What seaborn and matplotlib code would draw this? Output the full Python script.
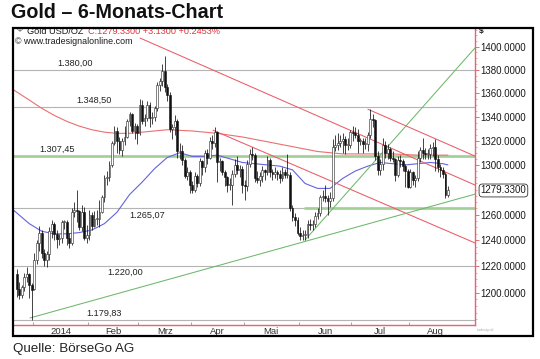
import numpy as np
import pandas as pd
import seaborn as sns
import matplotlib.pyplot as plt
from matplotlib.patches import Rectangle
from matplotlib.ticker import FixedLocator, NullFormatter, FuncFormatter
import matplotlib.transforms as mtransforms

# trading days of the chart (spot gold, daily)
dates = pd.bdate_range("2013-12-20", "2014-08-22")
dates = dates[~dates.isin(pd.to_datetime(["2013-12-25", "2014-01-01", "2014-04-18"]))]

open_ = [
    1214, 1203, 1198, 1204, 1212, 1214, 1206,
    1203, 1225, 1238, 1246, 1230, 1225, 1229, 1247, 1253, 1245, 1241, 1242, 1254, 1254, 1242, 1238, 1262, 1264, 1263, 1250, 1262, 1242,
    1244, 1260, 1251, 1257, 1257, 1262, 1274, 1289, 1290, 1300, 1318, 1328, 1320, 1312, 1320, 1323, 1336, 1342, 1328, 1332,
    1326, 1350, 1336, 1339, 1350, 1339, 1340, 1347, 1367, 1370, 1379, 1365, 1358, 1330, 1331, 1336, 1311, 1311, 1304, 1291, 1294,
    1284, 1280, 1291, 1285, 1303, 1298, 1310, 1306, 1320, 1318, 1327, 1302, 1303, 1294, 1290, 1284, 1284, 1293, 1300, 1296, 1297,
    1284, 1283, 1301, 1309, 1308, 1289, 1288, 1291, 1296, 1294, 1304, 1294, 1293, 1294, 1293, 1289, 1294, 1292, 1292, 1265, 1258, 1256,
    1246, 1243, 1244, 1244, 1253, 1252, 1253, 1259, 1261, 1274, 1275, 1273, 1271, 1273, 1315, 1316, 1318, 1320, 1321, 1316, 1316,
    1327, 1326, 1325, 1320, 1320, 1317, 1317, 1325, 1338, 1337, 1307, 1296, 1301, 1316, 1310, 1313, 1306, 1305, 1292, 1304, 1303, 1299, 1295,
    1282, 1294, 1288, 1289, 1306, 1312, 1310, 1309, 1309, 1314, 1315, 1305, 1298, 1296, 1293, 1276,
]
high = [
    1218, 1208, 1206, 1215, 1219, 1215, 1207,
    1230, 1240, 1251, 1248, 1233, 1232, 1250, 1256, 1254, 1248, 1245, 1256, 1256, 1256, 1246, 1265, 1270, 1280, 1264, 1268, 1266, 1252,
    1264, 1262, 1263, 1264, 1272, 1276, 1292, 1295, 1303, 1320, 1332, 1331, 1323, 1322, 1332, 1338, 1344, 1343, 1335, 1334,
    1355, 1354, 1342, 1353, 1352, 1344, 1349, 1369, 1373, 1385, 1392, 1368, 1361, 1334, 1341, 1338, 1318, 1316, 1306, 1298, 1296,
    1287, 1294, 1293, 1306, 1304, 1312, 1313, 1323, 1325, 1331, 1328, 1306, 1304, 1296, 1291, 1289, 1296, 1305, 1307, 1300, 1299,
    1288, 1304, 1313, 1315, 1310, 1295, 1294, 1299, 1297, 1307, 1306, 1297, 1298, 1296, 1296, 1298, 1297, 1309, 1294, 1268, 1261, 1258,
    1250, 1248, 1248, 1256, 1257, 1256, 1262, 1265, 1276, 1280, 1284, 1276, 1278, 1321, 1325, 1326, 1325, 1326, 1324, 1322, 1329,
    1332, 1331, 1330, 1322, 1322, 1322, 1327, 1346, 1342, 1338, 1311, 1305, 1322, 1320, 1317, 1315, 1311, 1306, 1307, 1308, 1305, 1301, 1297,
    1297, 1295, 1292, 1311, 1315, 1322, 1314, 1313, 1317, 1319, 1321, 1308, 1301, 1298, 1294, 1283,
]
low = [
    1197, 1195, 1196, 1201, 1208, 1196, 1179.83,
    1202, 1222, 1232, 1226, 1220, 1219, 1225, 1242, 1240, 1234, 1236, 1238, 1249, 1236, 1234, 1236, 1258, 1254, 1248, 1247, 1240, 1238,
    1240, 1248, 1250, 1252, 1250, 1261, 1270, 1284, 1287, 1298, 1316, 1310, 1309, 1307, 1316, 1322, 1332, 1326, 1321, 1317,
    1325, 1334, 1332, 1336, 1331, 1334, 1336, 1345, 1362, 1366, 1361, 1353, 1327, 1321, 1325, 1306, 1305, 1300, 1289, 1288, 1277,
    1277, 1278, 1282, 1283, 1292, 1294, 1301, 1305, 1313, 1315, 1286, 1295, 1292, 1283, 1278, 1280, 1268, 1290, 1293, 1290, 1277,
    1272, 1279, 1298, 1304, 1286, 1285, 1283, 1286, 1288, 1292, 1290, 1288, 1289, 1288, 1285, 1287, 1289, 1289, 1263, 1255, 1251, 1244,
    1240, 1240, 1240, 1242, 1248, 1248, 1250, 1257, 1259, 1271, 1270, 1260, 1266, 1271, 1311, 1312, 1315, 1310, 1309, 1312, 1314,
    1320, 1322, 1310, 1316, 1310, 1313, 1311, 1322, 1331, 1304, 1292, 1292, 1296, 1306, 1305, 1303, 1302, 1287, 1290, 1298, 1295, 1282, 1281,
    1281, 1284, 1282, 1287, 1302, 1305, 1305, 1305, 1305, 1307, 1295, 1294, 1290, 1289, 1273, 1274,
]
close = [
    1203, 1198, 1204, 1212, 1214, 1206, 1202,
    1225, 1238, 1246, 1230, 1225, 1229, 1247, 1253, 1245, 1241, 1242, 1254, 1254, 1242, 1238, 1262, 1264, 1263, 1250, 1262, 1242, 1244,
    1260, 1251, 1257, 1257, 1262, 1274, 1289, 1290, 1300, 1318, 1328, 1320, 1312, 1320, 1323, 1336, 1342, 1328, 1332, 1326,
    1350, 1336, 1339, 1350, 1339, 1340, 1347, 1367, 1370, 1379, 1365, 1358, 1330, 1331, 1336, 1311, 1311, 1304, 1291, 1294, 1284,
    1280, 1291, 1285, 1303, 1298, 1310, 1306, 1320, 1318, 1327, 1302, 1303, 1294, 1290, 1284, 1284, 1293, 1300, 1296, 1297, 1284,
    1283, 1301, 1309, 1308, 1289, 1288, 1291, 1296, 1294, 1304, 1294, 1293, 1294, 1293, 1289, 1294, 1292, 1292, 1265, 1258, 1256, 1246,
    1243, 1244, 1244, 1253, 1252, 1253, 1259, 1261, 1274, 1275, 1273, 1271, 1273, 1315, 1316, 1318, 1320, 1321, 1316, 1316, 1327,
    1326, 1325, 1320, 1320, 1317, 1317, 1325, 1338, 1337, 1307, 1296, 1301, 1316, 1310, 1313, 1306, 1305, 1292, 1304, 1303, 1299, 1295, 1282,
    1294, 1288, 1289, 1306, 1312, 1310, 1309, 1309, 1314, 1315, 1305, 1298, 1296, 1293, 1276, 1279.33,
]

# moving averages (trading-day index, price)
ma_fast_idx = [-1.5, 5, 10, 15, 20, 25, 30, 35, 40, 45, 50, 55, 60, 65, 70, 75, 80, 85, 90,
               95, 100, 105, 110, 115, 120, 125, 130, 135, 140, 145, 150, 155, 160, 165, 170, 172]
ma_fast = [1264, 1253, 1247, 1245, 1245, 1246, 1248, 1253, 1262, 1276, 1286, 1297, 1306, 1310, 1307,
           1307, 1308, 1305, 1302, 1301, 1300, 1299, 1296, 1285, 1281, 1281, 1289, 1295, 1299, 1302,
           1301, 1300, 1301, 1302, 1301, 1300]
ma_slow_idx = [-1.5, 5, 10, 15, 20, 25, 30, 35, 40, 45, 50, 55, 60, 70, 80, 90, 100, 110, 120,
               130, 140, 150, 160, 172]
ma_slow = [1363, 1354, 1347, 1341, 1336, 1332, 1329, 1327, 1326, 1326, 1327, 1328, 1329, 1328,
           1326, 1323, 1319, 1315, 1311, 1309, 1309, 1309, 1308, 1308]

# drawn trend lines: (start idx, start price, end idx, end price)
red_lines = [(49.2, 1407.7, 182.8, 1283.7), (140.1, 1346.2, 182.8, 1307.2), (78.3, 1328.6, 182.8, 1237.9)]
green_lines = [(5.3, 1181.0, 182.8, 1276.4), (115.0, 1240.2, 182.8, 1399.0)]

# marked price levels and their labels
levels = [1380.00, 1348.50, 1307.45, 1265.07, 1220.00, 1179.83]
level_text = ["1.380,00", "1.348,50", "1.307,45", "1.265,07", "1.220,00", "1.179,83"]
level_label_x = [23.3, 30.8, 16.1, 52.0, 43.2, 34.8]
level_label_above = [True, True, True, False, False, True]

month_labels = ["2014", "Feb", "Mrz", "Apr", "Mai", "Jun", "Jul", "Aug"]
price_ticks = [1200, 1220, 1240, 1260, 1300, 1320, 1340, 1360, 1380, 1400]

sns.set_theme(style="white")
plt.rcParams["font.family"] = ["Liberation Sans", "DejaVu Sans"]

W, H = 540, 359
fig = plt.figure(figsize=(W / 100, H / 100), dpi=100)
ax = fig.add_axes([13 / W, 1 - 325 / H, 462 / W, 297 / H])
ax.set_facecolor("white")

df = pd.DataFrame({"date": dates, "o": open_, "h": high, "l": low, "c": close})
df["i"] = np.arange(len(df))

# levels
for lv, txt, lx, above in zip(levels, level_text, level_label_x, level_label_above):
    ax.axhline(lv, color="#b4b4b4", lw=0.8, zorder=1)
    ax.annotate(txt, (lx, lv), xytext=(0, 1.5 if above else -1.5), textcoords="offset points",
                ha="center", va="bottom" if above else "top", fontsize=6.6, color="#222222")
ax.axhline(1307.45, color="#9fd494", lw=2.2, alpha=0.85, zorder=1.5)
ax.plot([115.0, 182.8], [1265.07, 1265.07], color="#9fd494", lw=2.2, alpha=0.85, zorder=1.5)

# moving averages
sns.lineplot(x=ma_slow_idx, y=ma_slow, ax=ax, color="#ec6f6f", lw=0.8, zorder=2)
sns.lineplot(x=ma_fast_idx, y=ma_fast, ax=ax, color="#6464dc", lw=0.8, zorder=2)

for x0, y0, x1, y1 in red_lines:
    ax.plot([x0, x1], [y0, y1], color="#ec5a66", lw=0.75, zorder=2)
for x0, y0, x1, y1 in green_lines:
    ax.plot([x0, x1], [y0, y1], color="#6cb86a", lw=0.75, zorder=2)

# candles
ax.vlines(df["i"], df["l"], df["h"], color="#111111", lw=0.55, zorder=3)
up = df["c"] >= df["o"]
body_lo = np.minimum(df["o"], df["c"])
body_h = np.maximum(np.abs(df["c"] - df["o"]), 0.8)
ax.bar(df["i"][up], body_h[up], bottom=body_lo[up], width=0.72, color="white",
       edgecolor="#222222", linewidth=0.4, zorder=4)
ax.bar(df["i"][~up], body_h[~up], bottom=body_lo[~up], width=0.72, color="#111111",
       edgecolor="#111111", linewidth=0.4, zorder=4)

ax.set_yscale("log")
ax.set_xlim(-1.48, 182.8)
ax.set_ylim(1175.8, 1416.6)
ax.set_xlabel("")
ax.set_ylabel("")

# price axis
ax.yaxis.tick_right()
ax.yaxis.set_major_locator(FixedLocator(price_ticks))
ax.yaxis.set_major_formatter(FuncFormatter(lambda v, p: f"{v:.4f}"))
ax.yaxis.set_minor_locator(FixedLocator(np.arange(1180, 1416, 5)))
ax.yaxis.set_minor_formatter(NullFormatter())
ax.tick_params(axis="y", which="major", direction="out", length=3, width=0.6, color="#e0585e",
               pad=1, labelsize=7, labelcolor="#1a1a1a", right=True, left=False)
ax.tick_params(axis="y", which="minor", direction="out", length=1.6, width=0.5, color="#e88a8e",
               right=True, left=False)

# month axis
starts = [int(np.argmax((df["date"].dt.month == m) & (df["date"].dt.year == y)))
          for y, m in [(2014, 1), (2014, 2), (2014, 3), (2014, 4), (2014, 5), (2014, 6), (2014, 7), (2014, 8)]]
bounds = [s - 0.5 for s in starts] + [starts[-1] + 21 - 0.5]
centers = [(a + b) / 2 for a, b in zip(bounds[:-1], bounds[1:])]
ax.xaxis.set_major_locator(FixedLocator(centers))
ax.set_xticklabels(month_labels)
ax.xaxis.set_minor_locator(FixedLocator(bounds[:-1]))
ax.tick_params(axis="x", which="major", length=0, pad=1.5, labelsize=6.8, labelcolor="#333333")
ax.tick_params(axis="x", which="minor", direction="in", length=2, width=0.6, color="#999999",
               bottom=True)

for side in ["right", "bottom"]:
    ax.spines[side].set_color("#e8646c")
    ax.spines[side].set_linewidth(1.0)
ax.spines["left"].set_visible(False)
ax.spines["top"].set_visible(False)

# last price tag
tr = mtransforms.blended_transform_factory(ax.transAxes, ax.transData)
ax.text(1.012, 1279.33, "1279.3300", transform=tr, fontsize=7, va="center", ha="left",
        color="#1a1a1a", clip_on=False,
        bbox=dict(boxstyle="round,pad=0.15,rounding_size=0.35", fc="white", ec="#333333", lw=0.6))

def px(x, y):
    return x / W, 1 - y / H

# outer frame
fig.patches.append(Rectangle(px(13, 336), 520 / W, 308 / H, transform=fig.transFigure,
                             fill=False, ec="black", lw=1.6, zorder=10))

fig.text(*px(11, 13), "Gold \u2013 6-Monats-Chart", fontsize=14.2, fontweight="bold",
         va="center", ha="left", color="#111111",
         family=["Liberation Sans Narrow", "Liberation Sans", "DejaVu Sans"])
fig.text(*px(13, 349), "Quelle: BörseGo AG", fontsize=9.6, va="center", ha="left", color="#222222",
         family=["Liberation Sans Narrow", "Liberation Sans", "DejaVu Sans"])

fig.text(*px(17, 31), "\u03a6", fontsize=5.5, va="center", ha="left", color="#555555")
fig.text(*px(27, 31), "Gold USD/OZ", fontsize=6.6, va="center", ha="left", color="#1a1a1a")
fig.text(*px(88, 31), "C:1279.3300 +3.1300 +0.2453%", fontsize=6.6, va="center", ha="left",
         color="#e8323c")
fig.text(*px(15, 41), "\u00a9 www.tradesignalonline.com", fontsize=6.4, va="center", ha="left",
         color="#1a1a1a")
fig.text(*px(479, 32), "$", fontsize=6, fontweight="bold", va="center", ha="left", color="#1a1a1a")
fig.text(*px(477, 330), "tradesignal", fontsize=2.5, va="center", ha="left", color="#aaaaaa")

plt.savefig("out.png", dpi=100)
plt.close()
